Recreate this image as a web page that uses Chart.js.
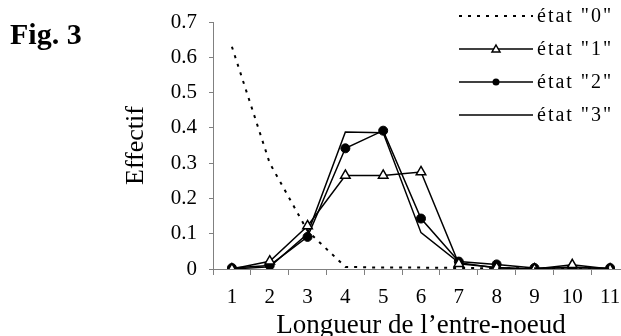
<!DOCTYPE html>
<html>
<head>
<meta charset="utf-8">
<script src="https://cdn.jsdelivr.net/npm/chart.js@4/dist/chart.umd.min.js"></script>
<style>
  body { margin: 0; overflow: hidden; background: #fff; }
  #wrap { position: relative; width: 621px; height: 336px; overflow: hidden; }
  #fig { position: absolute; left: 10px; top: 17px; line-height: 1; font: bold 30px "Liberation Serif", serif; color: #000; }
  canvas { position: absolute; left: 0; top: 0; }
</style>
</head>
<body>
<div id="wrap">
  <canvas id="chart" width="636" height="336"></canvas>
  <div id="fig">Fig. 3</div>
</div>
<script>
// longueur de l'entre-noeud (categories)
const labels = ['1', '2', '3', '4', '5', '6', '7', '8', '9', '10', '11'];

// effectif per state
const etat0 = [0.63, 0.30, 0.108, 0.006, 0.004, 0.004, 0.003, 0.002, 0.002, 0.002, 0.002];
const etat1 = [0, 0.022, 0.122, 0.265, 0.265, 0.275, 0.015, 0.004, 0, 0.012, 0];
const etat2 = [0.003, 0.01, 0.091, 0.342, 0.392, 0.143, 0.021, 0.013, 0.003, 0.003, 0.003];
const etat3 = [0, 0.006, 0.1, 0.388, 0.386, 0.103, 0.018, 0.003, 0, 0.006, 0];

const seriesNames = ['état "0"', 'état "1"', 'état "2"', 'état "3"'];

const serif = '"Liberation Serif", "Times New Roman", serif';

// legend drawn by hand, stacked on the right like the original
const sideLegend = {
    id: 'sideLegend',
    afterDraw(chart) {
        const ctx = chart.ctx;
        const x0 = 459, x1 = 533, tx = 537;
        const rows = [16, 49, 82, 115];
        ctx.save();
        chart.data.datasets.forEach(function (ds, i) {
            const y = rows[i];
            ctx.strokeStyle = '#000';
            ctx.lineWidth = ds.borderWidth;
            ctx.setLineDash(ds.borderDash || []);
            ctx.beginPath();
            ctx.moveTo(x0, y);
            ctx.lineTo(x1, y);
            ctx.stroke();
            ctx.setLineDash([]);
            const mx = (x0 + x1) / 2;
            if (ds.pointStyle === 'triangle') {
                ctx.fillStyle = '#fff';
                ctx.lineWidth = 1.5;
                ctx.beginPath();
                ctx.moveTo(mx, y - 4);
                ctx.lineTo(mx + 4, y + 3);
                ctx.lineTo(mx - 4, y + 3);
                ctx.closePath();
                ctx.fill();
                ctx.stroke();
            } else if (ds.pointStyle === 'circle' && ds.pointRadius > 0) {
                ctx.fillStyle = '#000';
                ctx.beginPath();
                ctx.arc(mx, y, 3.5, 0, Math.PI * 2);
                ctx.fill();
            }
            ctx.fillStyle = '#000';
            ctx.font = '20px ' + serif;
            ctx.letterSpacing = '2px';
            ctx.textBaseline = 'middle';
            ctx.textAlign = 'left';
            ctx.fillText(seriesNames[i], tx, y + 1);
        });
        ctx.restore();
    }
};

new Chart(document.getElementById('chart').getContext('2d'), {
    type: 'line',
    data: {
        labels: labels,
        datasets: [
            { label: seriesNames[0], data: etat0, borderColor: '#000', borderWidth: 2, borderDash: [3, 6], pointRadius: 0, pointStyle: 'circle', tension: 0 },
            { label: seriesNames[1], data: etat1, borderColor: '#000', borderWidth: 1.5, pointStyle: 'triangle', pointRadius: 5.5, pointBackgroundColor: '#fff', pointBorderColor: '#000', pointBorderWidth: 1.5, tension: 0 },
            { label: seriesNames[2], data: etat2, borderColor: '#000', borderWidth: 1.5, pointStyle: 'circle', pointRadius: 4.5, pointBackgroundColor: '#000', pointBorderColor: '#000', pointBorderWidth: 1, tension: 0 },
            { label: seriesNames[3], data: etat3, borderColor: '#000', borderWidth: 1.5, pointRadius: 0, pointStyle: 'line', tension: 0 }
        ]
    },
    options: {
        responsive: false,
        animation: false,
        events: [],
        layout: { padding: { top: 22, right: 1, left: 0, bottom: 0 } },
        plugins: { legend: { display: false }, tooltip: { enabled: false } },
        scales: {
            x: {
                offset: true,
                grid: { display: true, drawOnChartArea: false, offset: true, tickLength: 6, color: '#808080', lineWidth: 1 },
                border: { color: '#808080', width: 1 },
                ticks: { color: '#000', font: { family: serif, size: 21 }, padding: 10, maxRotation: 0, autoSkip: false },
                title: { display: true, text: 'Longueur de l’entre-noeud', color: '#000', font: { family: serif, size: 27, lineHeight: 1 }, padding: { top: 0, bottom: -3 } },
                afterFit: function (s) { s.height = 67; }
            },
            y: {
                min: 0,
                max: 0.7,
                grid: { display: true, drawOnChartArea: false, tickLength: 4, color: '#808080' },
                border: { color: '#808080', width: 1 },
                ticks: {
                    stepSize: 0.1,
                    color: '#000',
                    padding: 12,
                    font: { family: serif, size: 21, lineHeight: 0.92 },
                    callback: function (v) { return v === 0 ? '0' : v.toFixed(1); }
                },
                title: { display: true, text: 'Effectif', color: '#000', font: { family: serif, size: 26, lineHeight: 1 }, padding: { top: 123, bottom: 0 } },
                afterFit: function (s) { s.width = 213; }
            }
        }
    },
    plugins: [sideLegend]
});
</script>
</body>
</html>
